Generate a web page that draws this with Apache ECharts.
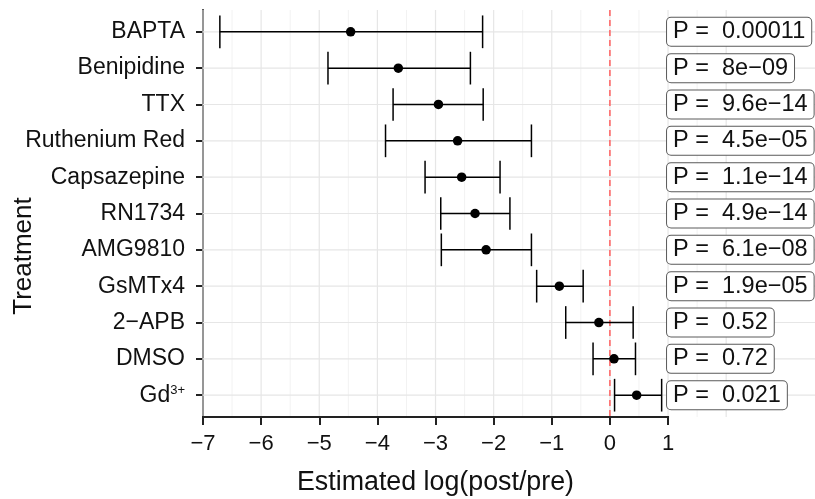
<!DOCTYPE html>
<html>
<head>
<meta charset="utf-8">
<script src="https://cdn.jsdelivr.net/npm/echarts@6/dist/echarts.min.js"></script>
<style>
html,body{margin:0;padding:0;background:#fff;}
#chart{width:815px;height:499px;}
</style>
</head>
<body>
<div id="chart"></div>
<script>
// ---------- data ----------
const categories = ['BAPTA','Benipidine','TTX','Ruthenium Red','Capsazepine','RN1734','AMG9810','GsMTx4','2\u2212APB','DMSO','Gd3+'];
const estimate = [-4.46,-3.64,-2.95,-2.62,-2.55,-2.32,-2.13,-0.87,-0.19,0.07,0.46];
const lower    = [-6.71,-4.85,-3.73,-3.86,-3.18,-2.91,-2.90,-1.26,-0.76,-0.29,0.08];
const upper    = [-2.19,-2.40,-2.18,-1.35,-1.89,-1.72,-1.35,-0.46,0.40,0.44,0.89];
const pValues  = ['0.00011','8e\u221209','9.6e\u221214','4.5e\u221205','1.1e\u221214','4.9e\u221214','6.1e\u221208','1.9e\u221205','0.52','0.72','0.021'];
const xTicks = [-7,-6,-5,-4,-3,-2,-1,0,1];
const xMajorGrid = [-7,-6,-5,-4,-3,-2,-1,0,1,2];
const xMinorGrid = [-6.5,-5.5,-4.5,-3.5,-2.5,-1.5,-0.5,0.5,1.5];
const refLine = 0;
const labelAnchorX = 1;
const xTitle = 'Estimated log(post/pre)';
const yTitle = 'Treatment';

// ---------- derived ----------
const n = categories.length;
const yPos = categories.map((c, i) => n - 0.4 - i);   // discrete positions, 0.6 expansion
const yMax = n + 0.2;
const FONT = '"Liberation Sans", Arial, Helvetica, sans-serif';
const INK = '#111';

const chart = echarts.init(document.getElementById('chart'), null, {renderer: 'canvas'});

function vLine(color, width, dash) {
  return function (params, api) {
    const cs = params.coordSys;
    const p = api.coord([api.value(0), 0]);
    const style = {stroke: color, lineWidth: width};
    if (dash) style.lineDash = dash;
    return {type: 'line', shape: {x1: p[0], y1: cs.y, x2: p[0], y2: cs.y + cs.height}, style: style};
  };
}

function labelFor(v) {
  const i = Math.round(n - 0.4 - v);
  const c = categories[i];
  if (c === 'Gd3+') return '{n|Gd}{s|3+}';
  return '{n|' + c + '}';
}

const option = {
  animation: false,
  backgroundColor: '#ffffff',
  grid: {left: 203, right: 0, top: 10, bottom: 82, containLabel: false},
  xAxis: {
    type: 'value', min: -7, max: -7 + 612 / 58.13,
    axisLine: {show: false, onZero: false},
    splitLine: {show: false},
    axisTick: {show: true, length: 8, customValues: xTicks, lineStyle: {color: '#222', width: 2}},
    axisLabel: {customValues: xTicks, margin: 16, fontSize: 22, fontFamily: FONT, color: INK,
                formatter: v => String(v).replace('-', '\u2212')}
  },
  yAxis: {
    type: 'value', min: 0, max: yMax,
    axisLine: {show: true, onZero: false, lineStyle: {color: '#222', width: 2}},
    splitLine: {show: false},
    axisTick: {show: true, length: 7, customValues: yPos, lineStyle: {color: '#222', width: 2}},
    axisLabel: {customValues: yPos, margin: 18, formatter: labelFor,
      rich: {
        n: {fontSize: 23, fontFamily: FONT, color: INK},
        s: {fontSize: 13, fontFamily: FONT, color: INK, padding: [0, 0, 10, 0]}
      }}
  },
  graphic: [
    {type: 'text', x: 435.5, y: 483, style: {text: xTitle, fontSize: 26.8, fontFamily: FONT, fill: INK, align: 'center', verticalAlign: 'middle'}},
    {type: 'text', x: 24, y: 256, rotation: Math.PI / 2, style: {text: yTitle, fontSize: 26, fontFamily: FONT, fill: INK, align: 'center', verticalAlign: 'middle'}}
  ],
  series: [
    {type: 'custom', z: 1, silent: true, clip: false, encode: {x: 0, y: 1},
     data: xMinorGrid.map(v => [v, 0]), renderItem: vLine('#f2f2f2', 1)},
    {type: 'custom', z: 1, silent: true, clip: false, encode: {x: 0, y: 1},
     data: xMajorGrid.map(v => [v, 0]), renderItem: vLine('#e6e6e6', 1.2)},
    {type: 'custom', z: 1, silent: true, clip: false, encode: {x: 0, y: 1},
     data: yPos.map(v => [0, v]),
     renderItem: function (params, api) {
       const cs = params.coordSys;
       const p = api.coord([-7, api.value(1)]);
       return {type: 'line', shape: {x1: cs.x, y1: p[1], x2: cs.x + cs.width, y2: p[1]},
               style: {stroke: '#e6e6e6', lineWidth: 1.2}};
     }},
    {type: 'custom', z: 2, silent: true, clip: false, encode: {x: 0, y: 1},
     data: [[refLine, 0]], renderItem: vLine('#ff5f5f', 1.5, [6, 4])},
    {type: 'custom', z: 3, silent: true, clip: false, encode: {x: [0, 1]},
     data: [[xTicks[0], xTicks[xTicks.length - 1]]],
     renderItem: function (params, api) {
       const a = api.coord([api.value(0), 0]);
       const b = api.coord([api.value(1), 0]);
       return {type: 'line', shape: {x1: a[0] - 1, y1: a[1], x2: b[0] + 1, y2: b[1]},
               style: {stroke: '#222', lineWidth: 2}};
     }},
    {type: 'custom', z: 4, silent: true, clip: false, encode: {x: [0, 1], y: 2},
     data: categories.map((c, i) => [lower[i], upper[i], yPos[i]]),
     renderItem: function (params, api) {
       const a = api.coord([api.value(0), api.value(2)]);
       const b = api.coord([api.value(1), api.value(2)]);
       const h = api.size([0, 0.9])[1] / 2;
       const st = {stroke: '#000', lineWidth: 1.5};
       return {type: 'group', children: [
         {type: 'line', shape: {x1: a[0], y1: a[1], x2: b[0], y2: b[1]}, style: st},
         {type: 'line', shape: {x1: a[0], y1: a[1] - h, x2: a[0], y2: a[1] + h}, style: st},
         {type: 'line', shape: {x1: b[0], y1: b[1] - h, x2: b[0], y2: b[1] + h}, style: st}
       ]};
     }},
    {type: 'scatter', z: 5, silent: true, symbol: 'circle', symbolSize: 9.5,
     itemStyle: {color: '#000', opacity: 1},
     data: categories.map((c, i) => [estimate[i], yPos[i]])},
    {type: 'custom', z: 6, silent: true, clip: false, encode: {x: 0, y: 1},
     data: categories.map((c, i) => [labelAnchorX, yPos[i]]),
     renderItem: function (params, api) {
       const p = api.coord([api.value(0), api.value(1)]);
       return {type: 'text', x: p[0] - 1, y: p[1],
               style: {text: 'P =  ' + pValues[params.dataIndex], fontSize: 23.5, fontFamily: FONT, fill: INK,
                       align: 'left', verticalAlign: 'middle', lineHeight: 23,
                       backgroundColor: '#fff', borderColor: '#5a5a5a', borderWidth: 1, borderRadius: 4,
                       padding: [3, 6, 2, 6]}};
     }}
  ]
};
chart.setOption(option);
</script>
</body>
</html>
